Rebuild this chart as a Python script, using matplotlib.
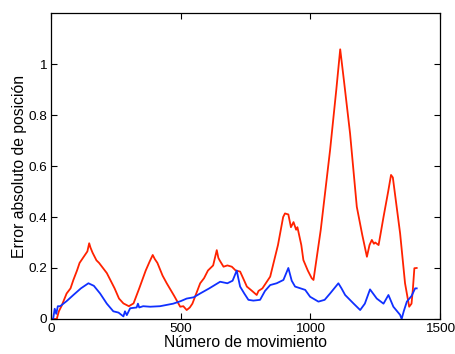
import matplotlib
matplotlib.use("Agg")
import matplotlib.pyplot as plt

# Red series (movement number, absolute position error)
red_x = [0, 22, 30, 40, 60, 75, 86, 100, 110, 130, 140, 147, 152, 160, 175, 185, 200,
         215, 230, 245, 262, 279, 300, 318, 340, 365, 380, 392, 400, 410, 430, 446,
         475, 498, 510, 523, 535, 545, 575, 590, 605, 625, 639, 645, 650, 665, 680,
         697, 712, 729, 745, 755, 775, 793, 800, 815, 845, 875, 895, 902, 915, 925,
         935, 945, 950, 965, 973, 990, 1005, 1012, 1040, 1076, 1100, 1115, 1130, 1153,
         1179, 1200, 1218, 1228, 1237, 1245, 1250, 1263, 1270, 1282, 1300, 1311, 1318,
         1325, 1346, 1365, 1381, 1390, 1395, 1401, 1410]
red_y = [0.0, 0.0, 0.03, 0.05, 0.10, 0.12, 0.153, 0.19, 0.22, 0.25, 0.265, 0.297,
         0.28, 0.26, 0.23, 0.22, 0.2, 0.18, 0.15, 0.12, 0.08, 0.061, 0.05, 0.061,
         0.12, 0.19, 0.225, 0.251, 0.235, 0.22, 0.17, 0.14, 0.09, 0.048, 0.05, 0.035,
         0.045, 0.06, 0.14, 0.16, 0.19, 0.21, 0.27, 0.24, 0.23, 0.205, 0.21, 0.205,
         0.19, 0.186, 0.15, 0.127, 0.11, 0.094, 0.11, 0.12, 0.166, 0.29, 0.4, 0.414,
         0.41, 0.36, 0.38, 0.35, 0.36, 0.29, 0.231, 0.19, 0.16, 0.153, 0.35, 0.663,
         0.9, 1.058, 0.93, 0.728, 0.44, 0.33, 0.244, 0.29, 0.31, 0.295, 0.30, 0.29,
         0.33, 0.4, 0.5, 0.565, 0.555, 0.5, 0.336, 0.14, 0.048, 0.06, 0.114, 0.199, 0.2]

# Blue series
blue_x = [0, 8, 14, 20, 26, 35, 60, 86, 115, 144, 165, 189, 215, 240, 260, 279, 285,
          292, 305, 330, 335, 340, 355, 382, 420, 471, 500, 523, 550, 575, 610, 652,
          680, 700, 716, 722, 729, 745, 761, 780, 806, 825, 845, 870, 896, 915, 928,
          941, 980, 999, 1031, 1055, 1076, 1108, 1120, 1134, 1166, 1192, 1210, 1230,
          1256, 1282, 1301, 1320, 1346, 1352, 1360, 1372, 1390, 1404, 1410]
blue_y = [0.0, 0.0, 0.04, 0.02, 0.05, 0.05, 0.07, 0.094, 0.12, 0.14, 0.13, 0.1,
          0.06, 0.03, 0.025, 0.01, 0.03, 0.015, 0.042, 0.045, 0.06, 0.045, 0.05,
          0.048, 0.05, 0.06, 0.07, 0.08, 0.085, 0.1, 0.12, 0.146, 0.14, 0.15, 0.19,
          0.16, 0.127, 0.1, 0.075, 0.072, 0.075, 0.11, 0.133, 0.14, 0.153, 0.2, 0.15,
          0.127, 0.114, 0.087, 0.068, 0.075, 0.1, 0.14, 0.12, 0.094, 0.061, 0.035,
          0.06, 0.116, 0.08, 0.06, 0.094, 0.048, 0.016, 0.0, 0.03, 0.068, 0.09, 0.12,
          0.12]

x_ticks = [0, 500, 1000, 1500]
y_ticks = [0, 0.2, 0.4, 0.6, 0.8, 1]
y_tick_labels = ["0", "0.2", "0.4", "0.6", "0.8", "1"]

plt.rcParams['font.family'] = ['Liberation Sans', 'DejaVu Sans']

fig = plt.figure(figsize=(4.56, 3.54), dpi=100)
ax = fig.add_axes([0.112, 0.099, 0.853, 0.864])

ax.plot(red_x, red_y, color='#FF2200', linewidth=1.3)
ax.plot(blue_x, blue_y, color='#1030FF', linewidth=1.3)

ax.set_xlim(0, 1500)
ax.set_ylim(0, 1.2)
ax.set_xticks(x_ticks)
ax.set_yticks(y_ticks)
ax.set_yticklabels(y_tick_labels)
ax.tick_params(direction='in', top=True, right=True, labelsize=9.7, length=4,
               width=0.8, pad=3)
for s in ax.spines.values():
    s.set_linewidth(0.9)

ax.set_xlabel("Número de movimiento", fontsize=11.3, labelpad=0)
ax.set_ylabel("Error absoluto de posición", fontsize=11.3, labelpad=1)

fig.savefig("out.png", dpi=100)
